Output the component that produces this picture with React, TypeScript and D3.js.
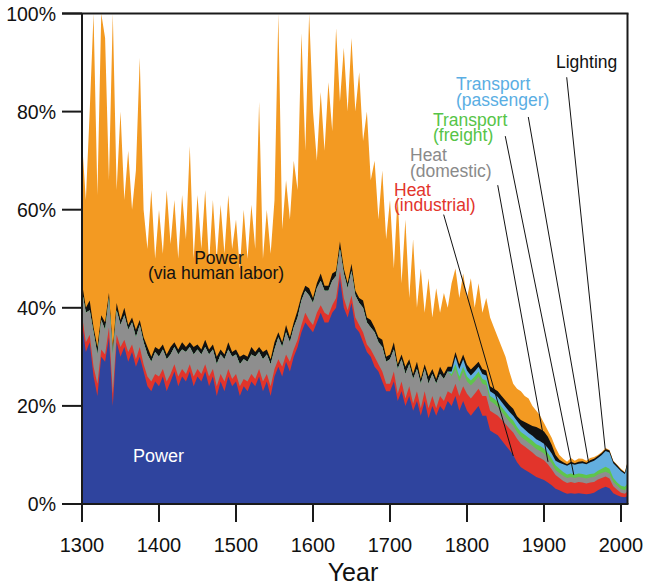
import * as d3 from "d3";

// years of the series (every 5 years, last point 2008)
const years = [
  1300, 1305, 1310, 1315, 1320, 1325, 1330, 1335, 1340, 1345,
  1350, 1355, 1360, 1365, 1370, 1375, 1380, 1385, 1390, 1395,
  1400, 1405, 1410, 1415, 1420, 1425, 1430, 1435, 1440, 1445,
  1450, 1455, 1460, 1465, 1470, 1475, 1480, 1485, 1490, 1495,
  1500, 1505, 1510, 1515, 1520, 1525, 1530, 1535, 1540, 1545,
  1550, 1555, 1560, 1565, 1570, 1575, 1580, 1585, 1590, 1595,
  1600, 1605, 1610, 1615, 1620, 1625, 1630, 1635, 1640, 1645,
  1650, 1655, 1660, 1665, 1670, 1675, 1680, 1685, 1690, 1695,
  1700, 1705, 1710, 1715, 1720, 1725, 1730, 1735, 1740, 1745,
  1750, 1755, 1760, 1765, 1770, 1775, 1780, 1785, 1790, 1795,
  1800, 1805, 1810, 1815, 1820, 1825, 1830, 1835, 1840, 1845,
  1850, 1855, 1860, 1865, 1870, 1875, 1880, 1885, 1890, 1895,
  1900, 1905, 1910, 1915, 1920, 1925, 1930, 1935, 1940, 1945,
  1950, 1955, 1960, 1965, 1970, 1975, 1980, 1985, 1990, 1995,
  2000, 2005, 2008,
];

// shares in percent, bottom to top of the stack
const power = [
  37, 31, 33, 26, 22, 30, 29, 34, 20, 33,
  30, 32, 29, 31, 28, 30, 27, 24, 23, 25,
  24, 26, 23, 25, 27, 24, 26, 25, 27, 24,
  26, 25, 27, 24, 26, 22, 25, 23, 26, 24,
  25, 22, 24, 23, 25, 24, 26, 23, 25, 22,
  26, 28, 26, 29, 27, 30, 32, 35, 37, 36,
  35, 37, 39, 37, 37, 39, 40, 46, 40, 38,
  41, 36, 35, 33, 31, 30, 28, 27, 25, 23,
  23, 25, 21, 23, 20, 22, 19, 21, 18, 21,
  17.5, 20, 18, 20, 19, 21, 20, 22, 19, 21,
  19, 18, 19, 20, 18, 18, 15, 14.5, 14, 13,
  12, 11, 10, 8.5, 7.5, 7, 6.5, 6, 5.5, 5.2,
  4.9, 4.4, 3.8, 3.1, 2.8, 2.4, 2.1, 2.2, 2.1, 2.2,
  2.1, 2, 2.1, 2.3, 2.8, 3.2, 3.5, 3.2, 2.2, 1.8,
  1.5, 1.4, 1.6,
];

const heatIndustrial = [
  1.5, 2, 1.5, 2, 2.5, 1.5, 1.5, 2, 2.5, 1.5,
  2, 1.5, 2, 1.5, 1.5, 2, 1.5, 2, 2, 1.5,
  2, 1.5, 2, 1.5, 1.5, 2, 1.5, 1.5, 1.5, 2,
  1.5, 1.5, 1.5, 2, 1.5, 2, 1.5, 2, 1.5, 1.5,
  1.5, 2, 1.5, 2, 1.5, 1.5, 1.5, 2, 1.5, 2,
  1.5, 1.5, 2, 1.5, 2, 1.5, 1.5, 1.5, 2, 1.5,
  1.5, 2, 1.5, 2, 1.5, 1.5, 2, 1.5, 2, 1.5,
  1.5, 2, 1.5, 2, 1.5, 1.5, 2, 1.5, 2, 1.5,
  1.5, 2, 1.5, 2, 1.5, 2, 1.5, 2, 1.5, 2,
  2, 2, 1.5, 2, 2, 2, 2.5, 2.5, 3, 3,
  3.5, 3.5, 3.5, 3.5, 4, 4, 4, 4, 4, 4.2,
  4.3, 4.4, 4.6, 4.8, 4.8, 4.7, 4.6, 4.5, 4.3, 4.2,
  4, 3.7, 3.3, 2.8, 2.5, 2.3, 2.2, 2.3, 2.2, 2.3,
  2.3, 2.2, 2.3, 2.2, 2.2, 2.1, 2.1, 2, 1.4, 1.1,
  0.8, 0.7, 0.9,
];

const heatDomestic = [
  5, 6, 5, 7, 6, 6, 5, 6, 8, 5,
  4.5, 5, 4.5, 4.5, 4.5, 4.5, 4.5, 4.5, 4, 4.5,
  4, 4, 4.5, 4, 3.5, 4.5, 4, 4.5, 3.5, 4.5,
  4, 4, 3.5, 4.5, 4, 4.5, 4, 4.5, 4, 4.5,
  4, 4.5, 4, 4, 4, 4.5, 3.5, 4.5, 4, 4.5,
  4, 4.5, 4, 4.5, 4, 4.5, 4.5, 5, 4.5, 5,
  4.5, 5, 5, 4.5, 5, 5, 4.5, 4.5, 5, 4.5,
  5, 4.5, 4.5, 5, 4.5, 4.5, 5, 4.5, 5, 4.5,
  5, 4.5, 5, 4.5, 5, 4.5, 5, 4.5, 5, 4.5,
  5, 4.5, 5, 4.5, 4.5, 4, 3.5, 3, 3, 3,
  2.5, 2.7, 2.5, 2.5, 2.5, 2.2, 2, 2, 1.8, 1.6,
  1.5, 1.4, 1.4, 1.4, 1.4, 1.4, 1.4, 1.4, 1.4, 1.4,
  1.4, 1.3, 1.2, 1, 1, 1, 1, 1, 1, 1,
  1, 1, 1, 1, 1, 1, 1, 1, 0.9, 0.8,
  0.7, 0.7, 0.8,
];

const transportFreight = [
  0, 0, 0, 0, 0, 0, 0, 0, 0, 0,
  0, 0, 0, 0, 0, 0, 0, 0, 0, 0,
  0, 0, 0, 0, 0, 0, 0, 0, 0, 0,
  0, 0, 0, 0, 0, 0, 0, 0, 0, 0,
  0, 0, 0, 0, 0, 0, 0, 0, 0, 0,
  0, 0, 0, 0, 0, 0, 0, 0, 0, 0,
  0, 0, 0, 0, 0, 0, 0, 0, 0, 0,
  0, 0, 0, 0, 0, 0, 0, 0, 0, 0,
  0, 0, 0, 0, 0, 0, 0, 0, 0, 0,
  0, 0, 0, 0, 0, 0, 0.5, 1, 1, 1,
  1, 1, 1, 1, 1, 1, 1, 1, 1, 1,
  1, 1, 1, 1, 1, 1, 1, 1, 1, 1,
  1, 1, 1, 1, 0.9, 0.8, 0.7, 0.7, 0.7, 0.7,
  0.7, 0.7, 0.7, 0.7, 0.8, 0.9, 1, 1, 0.8, 0.7,
  0.7, 0.7, 0.8,
];

const transportPassenger = [
  0, 0, 0, 0, 0, 0, 0, 0, 0, 0,
  0, 0, 0, 0, 0, 0, 0, 0, 0, 0,
  0, 0, 0, 0, 0, 0, 0, 0, 0, 0,
  0, 0, 0, 0, 0, 0, 0, 0, 0, 0,
  0, 0, 0, 0, 0, 0, 0, 0, 0, 0,
  0, 0, 0, 0, 0, 0, 0, 0, 0, 0,
  0, 0, 0, 0, 0, 0, 0, 0, 0, 0,
  0, 0, 0, 0, 0, 0, 0, 0, 0, 0,
  0, 0, 0, 0, 0, 0, 0, 0, 0, 0,
  0, 0, 0, 0, 0, 0, 0.5, 1.5, 1.5, 1.5,
  1.2, 1, 1, 1, 1, 1, 1, 1, 1, 1,
  1, 1, 1, 1.2, 1.2, 1.1, 1, 1, 1, 1,
  1, 1, 1, 0.9, 1.2, 1.6, 1.8, 2, 2, 2,
  2.2, 2.2, 2.4, 2.6, 2.6, 2.8, 3.2, 3.3, 3, 3.1,
  3, 2.6, 3.7,
];

const lighting = [
  1.5, 1, 2, 1, 1.5, 1, 1.5, 1, 1, 1.5,
  1, 1.5, 1, 1, 1.5, 1, 1, 1.5, 1, 1,
  1.5, 1, 1, 1.5, 1, 1, 1.5, 1, 1, 1.5,
  1, 1, 1.5, 1, 1, 1.5, 1, 1, 1.5, 1,
  1, 1.5, 1, 1, 1.5, 1, 1, 1.5, 1, 1,
  1.5, 1, 1, 1.5, 1, 1, 1.5, 1, 1, 1.5,
  1, 1, 1.5, 1, 1, 1.5, 1, 1.5, 1, 1,
  1.5, 1, 1, 1.5, 1, 1.5, 1, 1, 1.5, 1,
  1, 1.5, 1, 1, 1.5, 1, 1, 1.5, 1, 1,
  1.5, 1, 1, 1.5, 1, 1, 1, 1, 1, 1,
  1.2, 1.2, 1.2, 1, 1, 1, 1, 1, 1.2, 1.2,
  1.3, 1.4, 1.4, 1, 1.2, 1.5, 1.8, 2, 2.5, 2.5,
  2.5, 2.3, 1.8, 1.2, 0.6, 0.4, 0.3, 0.4, 0.3, 0.4,
  0.4, 0.3, 0.4, 0.4, 0.4, 0.4, 0.4, 0.4, 0.4, 0.4,
  0.3, 0.3, 0.4,
];

const humanLabor = [
  29, 22, 38.5, 64, 31, 61.5, 58, 23, 68.5, 23,
  42.5, 22, 35.5, 22, 32.5, 53.5, 26, 20, 34, 18,
  28.5, 18.5, 33.5, 21, 29, 18.5, 30, 22, 40, 18,
  30.5, 20.5, 30.5, 17.5, 29.5, 20, 29.5, 20.5, 30, 21,
  26.5, 18, 29.5, 20, 29, 21, 50, 19, 28.5, 21.5,
  29, 65, 23, 29.5, 24, 33, 24.5, 53.5, 27.5, 56,
  38, 25, 37, 27.5, 41.5, 29, 49.5, 28.5, 45, 35,
  46, 36.5, 46, 32.5, 42, 28.5, 34, 24, 34.5, 24,
  31.5, 15, 34.5, 14.5, 30, 12.5, 27.5, 11, 22.5, 10.5,
  20, 10.5, 18.5, 11, 16.5, 12, 17, 17, 13.5, 16.5,
  13.6, 18.6, 11.8, 16, 11.5, 14.8, 14, 12.5, 11, 10,
  8.9, 6.8, 5.1, 5.6, 5.9, 5.3, 5.2, 4.1, 3.3, 2.7,
  1.7, 1.3, 1.4, 1.5, 1, 0.7, 0.5, 0.8, 0.5, 0.7,
  0.5, 0.4, 0.5, 0.4, 0.2, 0.2, 0.2, 0.1, 0.1, 0.1,
  0.2, 0.1, 0.1,
];

const keys = [
  "power",
  "heatIndustrial",
  "heatDomestic",
  "transportFreight",
  "transportPassenger",
  "lighting",
  "humanLabor",
];
const colors = ["#2f449e", "#e2342b", "#8e8e8e", "#5fc54c", "#62aedf", "#111111", "#f39a22"];

const yTicks = [0, 20, 40, 60, 80, 100];
const yTickLabels = ["0%", "20%", "40%", "60%", "80%", "100%"];
const xTicks = [1300, 1400, 1500, 1600, 1700, 1800, 1900, 2000];

// callouts: text lines, colour, text anchor point (px), leader from/to in data units
const callouts = [
  { lines: ["Lighting"], color: "#111111", x: 556, y: 68, from: [1929.5, 87], to: [1979.5, 11.2] },
  { lines: ["Transport", "(passenger)"], color: "#5aaee3", x: 456, y: 90, from: [1879.6, 78.9], to: [1957.8, 8.6] },
  { lines: ["Transport", "(freight)"], color: "#56c447", x: 433, y: 125.5, from: [1849.7, 75], to: [1938.7, 5.9] },
  { lines: ["Heat", "(domestic)"], color: "#8a8a8a", x: 410, y: 161, from: [1839.9, 65], to: [1905.2, 8.6] },
  { lines: ["Heat", "(industrial)"], color: "#e2342b", x: 394, y: 195.5, from: [1769.7, 59], to: [1860.1, 9.8] },
];

const table = years.map((year, i) => ({
  year,
  power: power[i],
  heatIndustrial: heatIndustrial[i],
  heatDomestic: heatDomestic[i],
  transportFreight: transportFreight[i],
  transportPassenger: transportPassenger[i],
  lighting: lighting[i],
  humanLabor: humanLabor[i],
}));

const width = 646;
const height = 585;
const left = 82;
const right = 627.5;
const top = 13.5;
const bottom = 504;

export default function App() {
  const x = d3.scaleLinear().domain([1300, 2000]).range([left, 621]);
  const y = d3.scaleLinear().domain([0, 100]).range([bottom, top]);

  const series = d3.stack().keys(keys)(table as any);

  // each layer filled from zero up to its upper edge, drawn top layer first (no seams)
  const area = d3
    .area<any>()
    .x((d) => x(d.data.year))
    .y0(y(0))
    .y1((d) => y(Math.min(100, d[1])));

  const font = '"Liberation Sans", Arial, Helvetica, sans-serif';
  const axisColor = "#1a1a1a";

  return (
    <svg
      width={width}
      height={height}
      style={{ position: "absolute", left: 0, top: 0, fontFamily: font, background: "#fff" }}
    >
      <defs>
        <clipPath id="plot">
          <rect x={left} y={top} width={right - left} height={bottom - top} />
        </clipPath>
      </defs>

      <g clipPath="url(#plot)">
        {series
          .slice()
          .reverse()
          .map((s) => (
            <path key={s.key} d={area(s as any) ?? ""} fill={colors[keys.indexOf(s.key)]} />
          ))}
      </g>

      {/* leader lines */}
      {callouts.map((c, i) => (
        <line
          key={i}
          x1={x(c.from[0])}
          y1={y(c.from[1])}
          x2={x(c.to[0])}
          y2={y(c.to[1])}
          stroke="#111"
          strokeWidth={1}
        />
      ))}

      {callouts.map((c, i) => (
        <text key={i} x={c.x} y={c.y} fill={c.color} fontSize={17.5}>
          {c.lines.map((l, j) => (
            <tspan key={j} x={c.x} dy={j === 0 ? 0 : 15.5}>
              {l}
            </tspan>
          ))}
        </text>
      ))}

      <text x={219} y={263.5} textAnchor="middle" fontSize={17.5} fill="#111">
        Power
      </text>
      <text x={216} y={278.5} textAnchor="middle" fontSize={17.5} fill="#111">
        (via human labor)
      </text>
      <text x={133} y={462} fontSize={18} fill="#fff">
        Power
      </text>

      {/* frame and axes */}
      <g stroke={axisColor} strokeWidth={2} fill="none">
        <line x1={left} y1={top} x2={left} y2={bottom} />
        <line x1={right} y1={top} x2={right} y2={bottom} />
        <line x1={62} y1={top} x2={right + 1} y2={top} />
        <line x1={62} y1={bottom} x2={right + 1} y2={bottom} />
        {yTicks.map((t) => (
          <line key={t} x1={62} x2={left} y1={y(t)} y2={y(t)} />
        ))}
        {xTicks.map((t) => (
          <line key={t} x1={x(t)} x2={x(t)} y1={bottom} y2={522} />
        ))}
      </g>

      {yTicks.map((t, i) => (
        <text key={t} x={56} y={y(t) + 7} textAnchor="end" fontSize={19.5} fill="#111">
          {yTickLabels[i]}
        </text>
      ))}
      {xTicks.map((t) => (
        <text key={t} x={x(t)} y={552} textAnchor="middle" fontSize={20} fill="#111">
          {t}
        </text>
      ))}
      <text x={353} y={581} textAnchor="middle" fontSize={25} fill="#111">
        Year
      </text>
    </svg>
  );
}
